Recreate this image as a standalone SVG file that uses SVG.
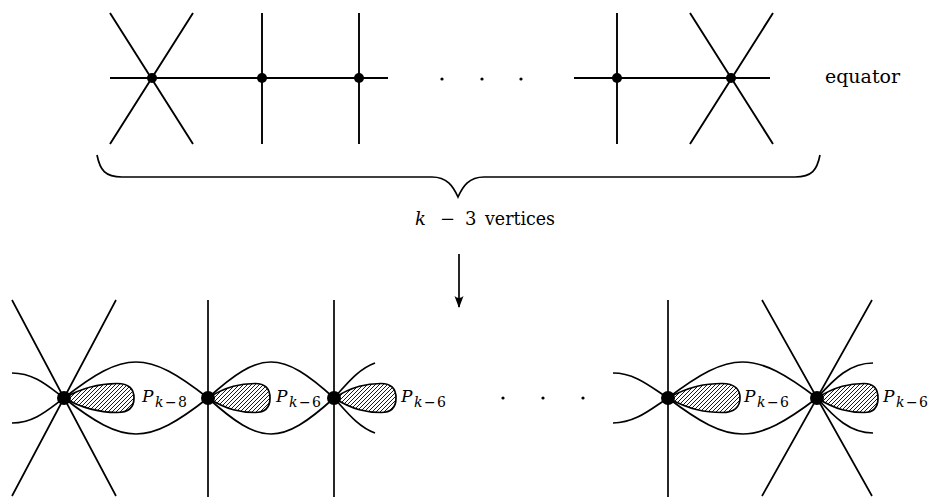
<svg xmlns="http://www.w3.org/2000/svg" width="931" height="497" viewBox="0 0 931 497">
<style>
.ln{fill:none;stroke:#000;stroke-width:1.9;stroke-linecap:butt}
.bl{fill:none;stroke:#000;stroke-width:1.7}
.dot{fill:#000}
.petal{fill:url(#hatch);stroke:#000;stroke-width:1.7;stroke-linejoin:round}
text{fill:#000;font-family:"DejaVu Serif","Liberation Serif",serif}
.it{font-style:italic}
</style>
<defs>
<pattern id="hatch" width="4" height="4" patternUnits="userSpaceOnUse">
<path d="M-1,1 l2,-2 M0,4 l4,-4 M3,5 l2,-2" stroke="#000" stroke-width="0.9"/>
</pattern>
<marker id="ah" viewBox="0 0 12 10" refX="11" refY="5" markerWidth="12" markerHeight="10" markerUnits="userSpaceOnUse" orient="auto">
<path d="M0,0.5 Q4,5 0,9.5 L12,5 Z" fill="#000"/>
</marker>
</defs>

<!-- top row -->
<g id="top-row">
<g id="connectors-top">
<path class="ln" d="M110,78 H388 M574,78 H770"/>
</g>
<g id="tv1"><path class="ln" d="M110,13 L193,144 M193,13 L110,144"/><circle class="dot" cx="152" cy="78" r="5"/></g>
<g id="tv2"><path class="ln" d="M262,13 V144"/><circle class="dot" cx="262" cy="78" r="5"/></g>
<g id="tv3"><path class="ln" d="M359,13 V144"/><circle class="dot" cx="359" cy="78" r="5"/></g>
<g id="tdots"><circle class="dot" cx="442" cy="79" r="1.6"/><circle class="dot" cx="482" cy="79" r="1.6"/><circle class="dot" cx="521" cy="79" r="1.6"/></g>
<g id="tv4"><path class="ln" d="M617,13 V144"/><circle class="dot" cx="617" cy="78" r="5"/></g>
<g id="tv5"><path class="ln" d="M690,13 L773,144 M773,13 L690,144"/><circle class="dot" cx="731" cy="78" r="5"/></g>
<text x="825" y="83" font-size="19" textLength="75" lengthAdjust="spacingAndGlyphs">equator</text>
</g>

<!-- brace -->
<g id="brace">
<path class="bl" d="M97,155 C100,170 105,177 122,177 L432,177 C447,177 453,186 458,197 C463,186 469,177 484,177 L795,177 C812,177 817,170 820,155"/>
<text y="225" font-size="18"><tspan class="it" x="415">k</tspan><tspan x="440">−</tspan><tspan x="465">3</tspan><tspan x="485" textLength="70" lengthAdjust="spacingAndGlyphs">vertices</tspan></text>
</g>

<!-- arrow -->
<g id="arrow">
<path class="bl" d="M459,254 V307" marker-end="url(#ah)"/>
</g>

<!-- bottom row -->
<g id="bottom-row">
<g id="connectors-bottom">
<path class="bl" d="M12,373 C35,373 50,388 64,398 M12,423 C35,423 50,408 64,398"/>
<path class="bl" d="M64,398 C125,350 147,350 208,398 M64,398 C125,446 147,446 208,398"/>
<path class="bl" d="M208,398 C261,350 281,350 334,398 M208,398 C261,446 281,446 334,398"/>
<path class="bl" d="M334,398 C346,385 358,369 375,363 M334,398 C346,411 358,427 375,433"/>
<path class="bl" d="M613,373 C636,373 652,388 668,398 M613,423 C636,423 652,408 668,398"/>
<path class="bl" d="M668,398 C731,350 754,350 817,398 M668,398 C731,446 754,446 817,398"/>
<path class="bl" d="M817,398 C835,378 850,363 873,363 M817,398 C835,418 850,433 873,433"/>
</g>

<g id="bv1">
<path class="bl" d="M12,300 L116,496 M116,300 L12,496"/>
<path class="petal" d="M64,398 C85,386 102,383.5 117,383.5 C130,383.5 134,390 134,398 C134,406 130,412.5 117,412.5 C102,412.5 85,410 64,398 Z"/>
<circle class="dot" cx="64" cy="398" r="7"/>
<text y="402"><tspan class="it" x="142" font-size="17">P</tspan><tspan class="it" x="155" y="407" font-size="14">k</tspan><tspan x="165" y="407" font-size="14">−</tspan><tspan x="178" y="407" font-size="14">8</tspan></text>
</g>

<g id="bv2">
<path class="bl" d="M208,300 V497"/>
<path class="petal" d="M208,398 C227,386 241,383.5 255,383.5 C266,383.5 270,390 270,398 C270,406 266,412.5 255,412.5 C241,412.5 227,410 208,398 Z"/>
<circle class="dot" cx="208" cy="398" r="7"/>
<text y="402"><tspan class="it" x="276" font-size="17">P</tspan><tspan class="it" x="289" y="407" font-size="14">k</tspan><tspan x="299" y="407" font-size="14">−</tspan><tspan x="312" y="407" font-size="14">6</tspan></text>
</g>

<g id="bv3">
<path class="bl" d="M334,300 V497"/>
<path class="petal" d="M334,398 C353,386 367,383.5 381,383.5 C392,383.5 396,390 396,398 C396,406 392,412.5 381,412.5 C367,412.5 353,410 334,398 Z"/>
<circle class="dot" cx="334" cy="398" r="7"/>
<text y="402"><tspan class="it" x="401" font-size="17">P</tspan><tspan class="it" x="414" y="407" font-size="14">k</tspan><tspan x="424" y="407" font-size="14">−</tspan><tspan x="437" y="407" font-size="14">6</tspan></text>
</g>

<g id="bdots"><circle class="dot" cx="503" cy="398" r="1.6"/><circle class="dot" cx="543" cy="398" r="1.6"/><circle class="dot" cx="583" cy="398" r="1.6"/></g>

<g id="bv4">
<path class="bl" d="M668,300 V497"/>
<path class="petal" d="M668,398 C690,386 706,383.5 722,383.5 C735,383.5 740,390 740,398 C740,406 735,412.5 722,412.5 C706,412.5 690,410 668,398 Z"/>
<circle class="dot" cx="668" cy="398" r="7"/>
<text y="402"><tspan class="it" x="744" font-size="17">P</tspan><tspan class="it" x="757" y="407" font-size="14">k</tspan><tspan x="767" y="407" font-size="14">−</tspan><tspan x="780" y="407" font-size="14">6</tspan></text>
</g>

<g id="bv5">
<path class="bl" d="M762,300 L872,496 M872,300 L762,496"/>
<path class="petal" d="M817,398 C836,386 850,383.5 864,383.5 C875,383.5 878,390 878,398 C878,406 875,412.5 864,412.5 C850,412.5 836,410 817,398 Z"/>
<circle class="dot" cx="817" cy="398" r="7"/>
<text y="402"><tspan class="it" x="883" font-size="17">P</tspan><tspan class="it" x="896" y="407" font-size="14">k</tspan><tspan x="906" y="407" font-size="14">−</tspan><tspan x="919" y="407" font-size="14">6</tspan></text>
</g>
</g>
</svg>
